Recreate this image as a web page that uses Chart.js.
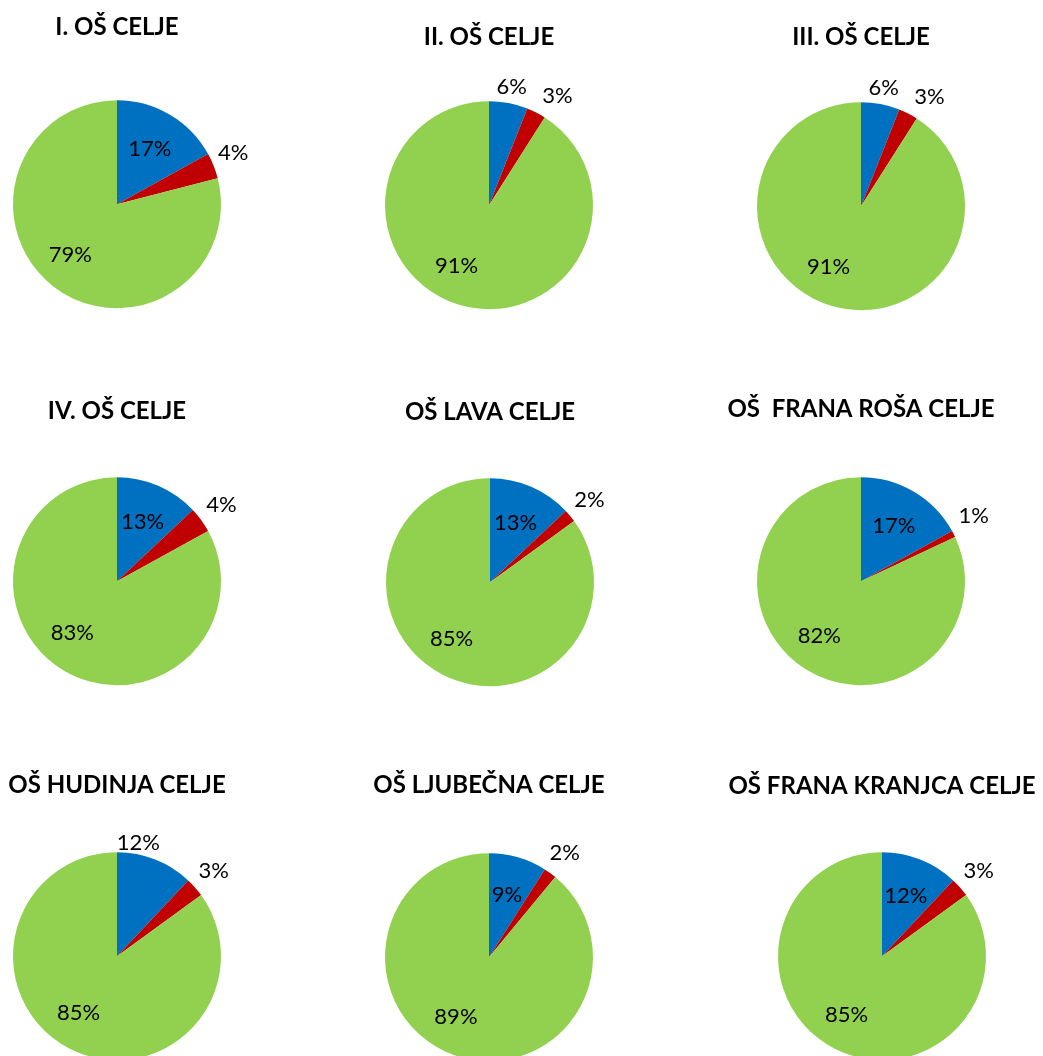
<!DOCTYPE html>
<html>
<head>
<meta charset="utf-8">
<script src="https://cdn.jsdelivr.net/npm/chart.js@4/dist/chart.umd.min.js"></script>
<style>
  html, body { margin: 0; padding: 0; background: #ffffff; }
  body { width: 1043px; height: 1056px; position: relative; overflow: hidden; }
  .box { position: absolute; width: 360px; height: 360px; }
</style>
</head>
<body>
<script>
// ---- DATA ----
const categories = ['Kategorija 1', 'Kategorija 2', 'Kategorija 3'];
const schools = [
  'I. OŠ CELJE', 'II. OŠ CELJE', 'III. OŠ CELJE',
  'IV. OŠ CELJE', 'OŠ LAVA CELJE', 'OŠ  FRANA ROŠA CELJE',
  'OŠ HUDINJA CELJE', 'OŠ LJUBEČNA CELJE', 'OŠ FRANA KRANJCA CELJE'
];
const bluePct  = [17, 6, 6, 13, 13, 17, 12, 9, 12];
const redPct   = [4, 3, 3, 4, 2, 1, 3, 2, 3];
const greenPct = [79, 91, 91, 83, 85, 82, 85, 89, 85];

// ---- LAYOUT / STYLE (not data) ----
const colors = ['#0070C0', '#C00000', '#92D050'];
const panels = [
  {cx: 117, cy: 204, ty: 27.5, tx: 7}, {cx: 489, cy: 205, ty: 37, tx: 0}, {cx: 861, cy: 206, ty: 37, tx: 2},
  {cx: 117, cy: 581, ty: 411, tx: 0}, {cx: 490, cy: 582, ty: 412, tx: -2}, {cx: 861, cy: 581, ty: 409, tx: -1},
  {cx: 117, cy: 956, ty: 785, tx: 0}, {cx: 489, cy: 957, ty: 785, tx: 0}, {cx: 882, cy: 956, ty: 786, tx: 0}
];
// label distance from centre as a fraction of the radius, per slice
const labelDist = [
  [0.62, 1.22, 0.66], [1.16, 1.24, 0.66], [1.16, 1.24, 0.66],
  [0.62, 1.24, 0.66], [0.62, 1.24, 0.66], [0.62, 1.25, 0.66],
  [1.11, 1.24, 0.66], [0.62, 1.24, 0.66], [0.62, 1.24, 0.66]
];
// small angle nudges (degrees) for labels, per slice
const nudge = [
  [0,-2,5], [0,5,12], [0,5,12],
  [0,0,10], [0,0,7], [0,-3,5],
  [-11,0,7], [0,0,9], [0,0,4]
];
const W = 360, H = 360, R = 104, TITLE_SIZE = 24, TITLE_LH = 1.2;

const labelPlugin = {
  id: 'sliceLabels',
  afterDatasetsDraw(chart, args, opts) {
    const ctx = chart.ctx;
    const meta = chart.getDatasetMeta(0);
    const ds = chart.data.datasets[0];
    ctx.save();
    ctx.font = '22px Lato, "Open Sans", sans-serif';
    ctx.fillStyle = '#000';
    ctx.textAlign = 'center';
    ctx.textBaseline = 'middle';
    meta.data.forEach((arc, i) => {
      const p = arc.getProps(['x','y','startAngle','endAngle','outerRadius'], true);
      const mid = (p.startAngle + p.endAngle) / 2 + (opts.nudge[i] || 0) * Math.PI / 180;
      const f = opts.dist[i];
      const x = p.x + Math.cos(mid) * p.outerRadius * f;
      const y = p.y + Math.sin(mid) * p.outerRadius * f;
      ctx.fillText(ds.data[i] + '%', x, y);
    });
    ctx.restore();
  }
};

schools.forEach((name, k) => {
  const pn = panels[k];
  const div = document.createElement('div');
  div.className = 'box';
  const top = pn.cy - 193.2;
  // title (full canvas width) is centred on the canvas; the pie is shifted back inside it by padding
  const padR = pn.tx > 0 ? 2 * pn.tx : 0;
  const padL = pn.tx < 0 ? -2 * pn.tx : 0;
  div.style.left = (pn.cx - W / 2 + pn.tx) + 'px';
  div.style.top = top + 'px';
  const cv = document.createElement('canvas');
  cv.width = W; cv.height = H;
  div.appendChild(cv);
  document.body.appendChild(div);

  const padTop = pn.ty - top - TITLE_SIZE * TITLE_LH / 2;
  const chartTop = padTop + TITLE_SIZE * TITLE_LH;
  const padBottom = chartTop + H - 2 * 193.2;

  new Chart(cv, {
    type: 'pie',
    data: {
      labels: categories,
      datasets: [{
        data: [bluePct[k], redPct[k], greenPct[k]],
        backgroundColor: colors,
        borderWidth: 0,
        hoverOffset: 0,
        radius: R
      }]
    },
    options: {
      responsive: false,
      animation: false,
      layout: { padding: { top: 0, bottom: padBottom, left: padL, right: padR } },
      plugins: {
        legend: { display: false },
        tooltip: { enabled: false },
        title: {
          display: true,
          text: name,
          color: '#000',
          font: { family: 'Lato, "Open Sans", sans-serif', size: TITLE_SIZE, weight: 'bold', lineHeight: TITLE_LH },
          padding: { top: padTop, bottom: 0 }
        },
        sliceLabels: { dist: labelDist[k], nudge: nudge[k] }
      }
    },
    plugins: [labelPlugin]
  });
});
</script>
</body>
</html>
